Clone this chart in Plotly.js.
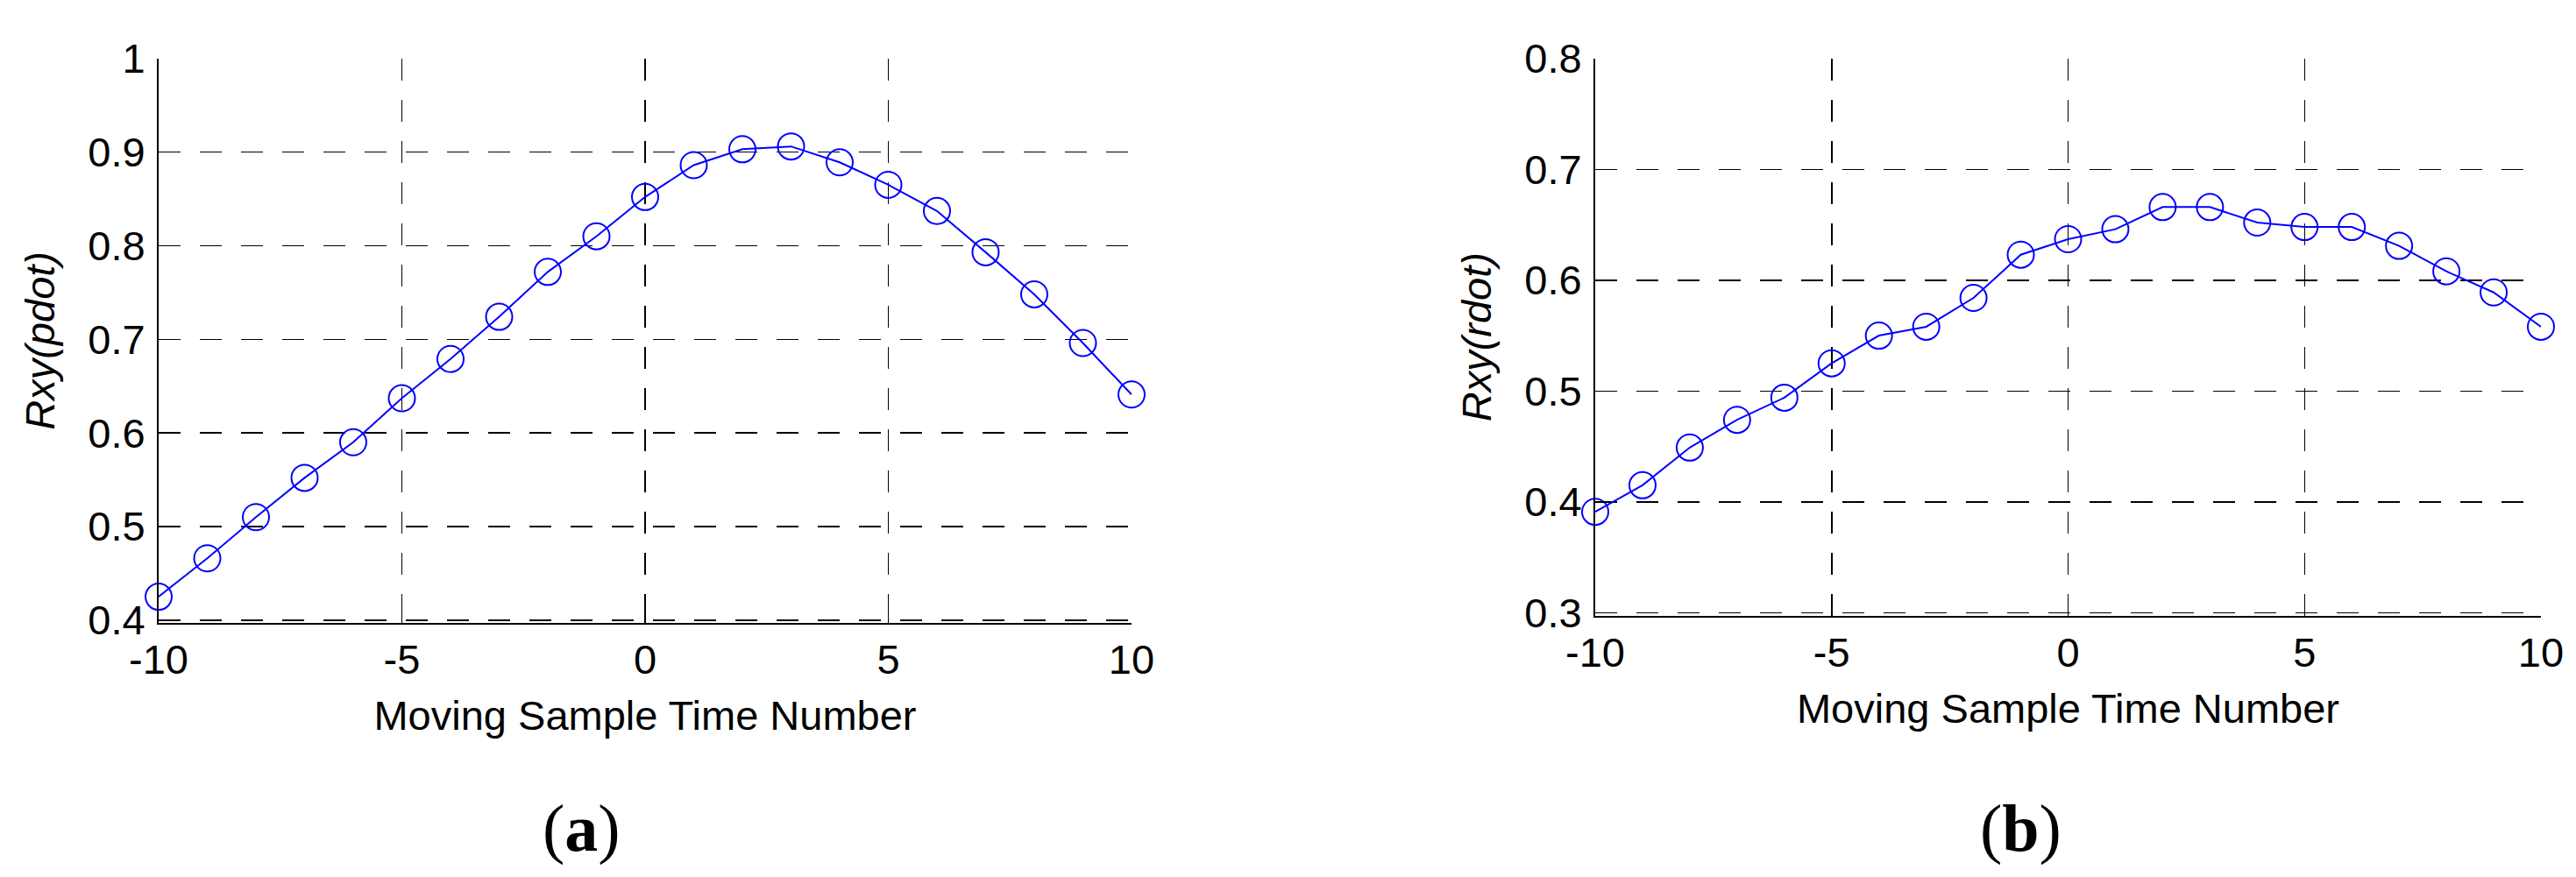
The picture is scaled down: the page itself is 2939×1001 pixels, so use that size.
<!DOCTYPE html>
<html>
<head>
<meta charset="utf-8">
<script src="https://cdn.plot.ly/plotly-3.0.1.min.js"></script>
<style>
html,body{margin:0;padding:0;background:#ffffff;}
#chart{width:2939px;height:1001px;}
</style>
</head>
<body>
<div id="chart"></div>
<script>
// ---- data ----
const lags = [-10,-9,-8,-7,-6,-5,-4,-3,-2,-1,0,1,2,3,4,5,6,7,8,9,10];
const rxyPdot = [0.425,0.466,0.510,0.552,0.590,0.637,0.679,0.724,0.772,0.810,0.852,0.886,0.903,0.906,0.889,0.865,0.837,0.793,0.748,0.696,0.641];
const rxyRdot = [0.391,0.415,0.449,0.474,0.494,0.525,0.550,0.558,0.584,0.623,0.637,0.646,0.666,0.666,0.652,0.648,0.648,0.631,0.608,0.589,0.558];
const xTickVals = [-10,-5,0,5,10];
const xTickText = ['-10','-5','0','5','10'];
const yTickValsA = [0.4,0.5,0.6,0.7,0.8,0.9,1.0];
const yTickTextA = ['0.4','0.5','0.6','0.7','0.8','0.9','1'];
const yTickValsB = [0.3,0.4,0.5,0.6,0.7,0.8];
const yTickTextB = ['0.3','0.4','0.5','0.6','0.7','0.8'];
const xTitle = 'Moving Sample Time Number';
const yTitleA = 'Rxy(pdot)';
const yTitleB = 'Rxy(rdot)';
const panelLabels = ['a','b'];

// ---- styling ----
const W = 2939, H = 1001;
const FONT = 'Liberation Sans, Arial, sans-serif';
const tickFont = {family: FONT, size: 47, color: '#000000'};
const titleFont = {family: FONT, size: 47, color: '#000000'};
const blue = '#0000ff';

function seriesTrace(y, xa, ya) {
  return {
    x: lags, y: y, xaxis: xa, yaxis: ya,
    type: 'scatter', mode: 'lines+markers', cliponaxis: false,
    line: {color: blue, width: 2},
    marker: {symbol: 'circle-open', size: 30, color: blue, line: {color: blue, width: 2}},
    showlegend: false, hoverinfo: 'x+y'
  };
}

function xAxis(domain, anchor) {
  return {
    domain: domain, anchor: anchor, range: [-10, 10],
    tickmode: 'array', tickvals: xTickVals, ticktext: xTickText,
    tickfont: tickFont, ticks: 'inside', ticklen: 12, tickwidth: 1.5, tickcolor: '#000',
    ticklabelstandoff: 0,
    showgrid: true, gridcolor: '#000000', gridwidth: 1.5, griddash: '25px,22px',
    zeroline: false, showline: true, linecolor: '#000000', linewidth: 2, mirror: false,
    automargin: false, fixedrange: true,
    title: {text: xTitle, font: titleFont, standoff: 22}
  };
}

function yAxis(domain, anchor, range, vals, text, title) {
  return {
    domain: domain, anchor: anchor, range: range,
    tickmode: 'array', tickvals: vals, ticktext: text,
    tickfont: tickFont, ticks: 'inside', ticklen: 12, tickwidth: 1.5, tickcolor: '#000',
    ticklabelstandoff: 4,
    showgrid: true, gridcolor: '#000000', gridwidth: 1.5, griddash: '25px,22px',
    zeroline: false, showline: true, linecolor: '#000000', linewidth: 2, mirror: false,
    automargin: false, fixedrange: true,
    title: {text: '<i>' + title + '</i>', font: titleFont, standoff: 23}
  };
}

const data = [
  seriesTrace(rxyPdot, 'x', 'y'),
  seriesTrace(rxyRdot, 'x2', 'y2')
];

const labelFont = {family: 'Liberation Serif, Times New Roman, serif', size: 76, color: '#000'};

const layout = {
  width: W, height: H,
  margin: {l: 0, r: 0, t: 0, b: 0, pad: 0},
  paper_bgcolor: '#ffffff', plot_bgcolor: '#ffffff',
  showlegend: false,
  xaxis: xAxis([181 / W, 1291 / W], 'y'),
  yaxis: yAxis([1 - 711 / H, 1 - 66.7 / H], 'x', [0.397, 1.0], yTickValsA, yTickTextA, yTitleA),
  xaxis2: xAxis([1820 / W, 2899 / W], 'y2'),
  yaxis2: yAxis([1 - 702.5 / H, 1 - 66.8 / H], 'x2', [0.2975, 0.8], yTickValsB, yTickTextB, yTitleB),
  annotations: [
    {text: '(<b>' + panelLabels[0] + '</b>)', xref: 'paper', yref: 'paper', x: 663 / W, y: 1 - 945 / H,
     xanchor: 'center', yanchor: 'middle', showarrow: false, font: labelFont},
    {text: '(<b>' + panelLabels[1] + '</b>)', xref: 'paper', yref: 'paper', x: 2305 / W, y: 1 - 945 / H,
     xanchor: 'center', yanchor: 'middle', showarrow: false, font: labelFont}
  ]
};

Plotly.newPlot('chart', data, layout, {displayModeBar: false, staticPlot: true});
</script>
</body>
</html>
